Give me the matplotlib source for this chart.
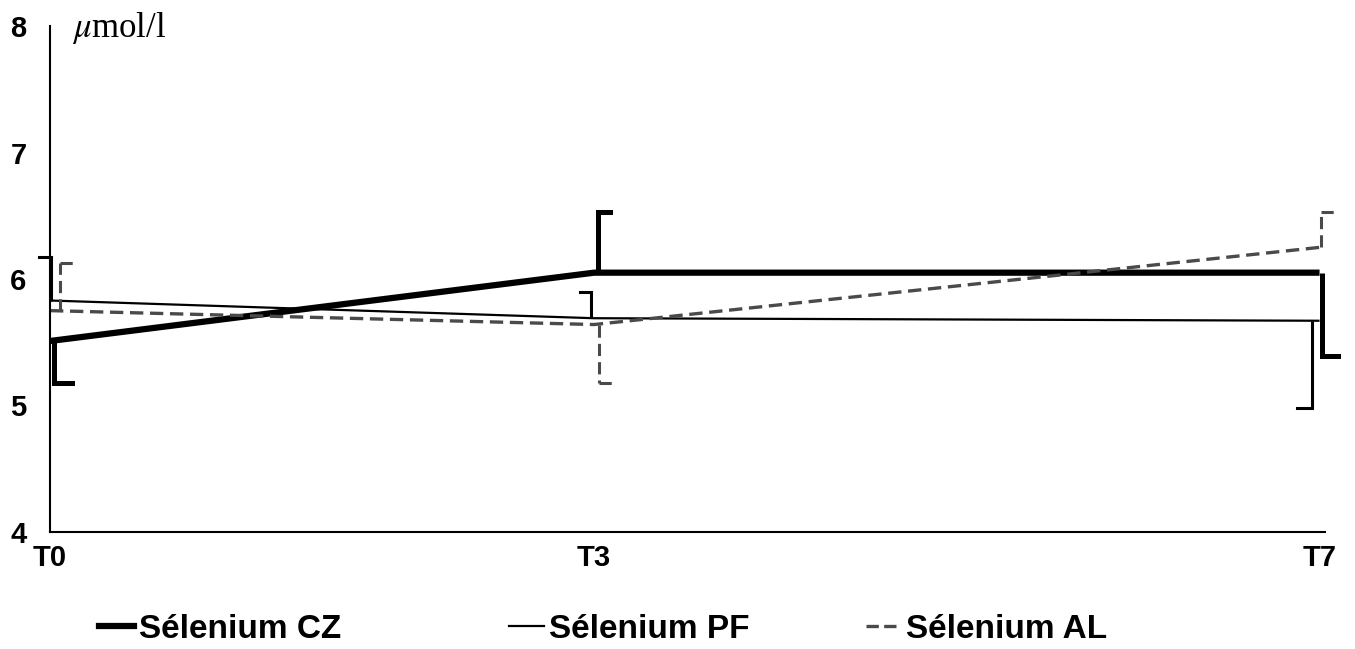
import matplotlib
matplotlib.use("Agg")
import matplotlib.pyplot as plt
from matplotlib.lines import Line2D

plt.rcParams["font.family"] = ["Liberation Sans", "DejaVu Sans"]
plt.rcParams["mathtext.fontset"] = "stix"

# Sélénium plasmatique (µmol/l) aux trois temps de mesure
times = [0, 3, 7]
time_labels = ["T0", "T3", "T7"]
se_cz = [5.51, 6.05, 6.05]
se_pf = [5.83, 5.69, 5.67]
se_al = [5.75, 5.64, 6.25]

# écarts (une seule demi-barre tracée par point, +1 vers le haut, -1 vers le bas)
err_cz = [0.33, 0.48, 0.66]
dir_cz = [-1, 1, -1]
err_pf = [0.34, 0.21, 0.69]
dir_pf = [1, 1, -1]
err_al = [0.38, 0.46, 0.28]
dir_al = [1, -1, 1]

fig = plt.figure(figsize=(13.55, 6.49), dpi=100)
ax = fig.add_axes([50 / 1355, 117 / 649, 1275 / 1355, 506 / 649])

px = 7.03 / 1275  # largeur d'un pixel en unités de x

series = [
    ("Sélenium CZ", se_cz, err_cz, dir_cz, dict(color="black", lw=4.5, ls="-"),
     [4, 4, 2], [18, 12, 16]),
    ("Sélenium PF", se_pf, err_pf, dir_pf, dict(color="black", lw=1.6, ls="-"),
     [1, -3, -8], [-12, -11, -15]),
    ("Sélenium AL", se_al, err_al, dir_al, dict(color="#4a4a4a", lw=2.4, ls=(0, (4, 2))),
     [10, 5, 1], [18, 18, 18]),
]

handles = []
for name, vals, errs, dirs, style, xoff, caps in series:
    line, = ax.plot(times, vals, label=name, clip_on=False, solid_capstyle="butt",
                    dash_capstyle="butt", **style)
    handles.append(line)
    # demi-barres d'erreur en forme de crochet
    bar_style = dict(style)
    bar_style["lw"] = max(style["lw"] * 0.8, 2.2)
    for t, v, e, d, xo, c in zip(times, vals, errs, dirs, xoff, caps):
        xv = t + xo * px
        tip = v + d * e
        ax.plot([xv, xv], [v, tip], clip_on=False, solid_capstyle="butt", **bar_style)
        ax.plot([xv, xv + c * px], [tip, tip], clip_on=False,
                solid_capstyle="projecting", **bar_style)

ax.set_xlim(0, 7.03)
ax.set_ylim(4, 8)
ax.set_yticks([4, 5, 6, 7, 8])
ax.set_yticklabels(["4", "5", "6", "7", "8"])
ax.set_xticks(times)
ax.set_xticklabels(time_labels)
ax.tick_params(axis="y", length=0, pad=17, labelsize=21)
ax.tick_params(axis="x", length=0, pad=9, labelsize=21)
for lab in ax.get_xticklabels() + ax.get_yticklabels():
    lab.set_fontweight("bold")

for side in ("top", "right"):
    ax.spines[side].set_visible(False)
for side in ("left", "bottom"):
    ax.spines[side].set_linewidth(1.5)

fig.text(72 / 1355, 1 - 37 / 649, r"$\mu$mol/l", family="Liberation Serif",
         fontsize=25, va="baseline", ha="left")

# légende : trois entrées placées séparément le long du bas
legend_x = [99, 509, 866]
for h, x0 in zip(handles, legend_x):
    proxy = Line2D([], [], color=h.get_color(), lw=h.get_linewidth(),
                   ls=h.get_linestyle())
    fig.legend([proxy], [h.get_label()], loc="center left",
               bbox_to_anchor=(x0 / 1355, 1 - 629 / 649), frameon=False,
               prop=dict(size=24, weight="bold"), handlelength=1.05,
               handletextpad=0.15, borderpad=0, borderaxespad=0)

fig.savefig("out.png", dpi=100)
